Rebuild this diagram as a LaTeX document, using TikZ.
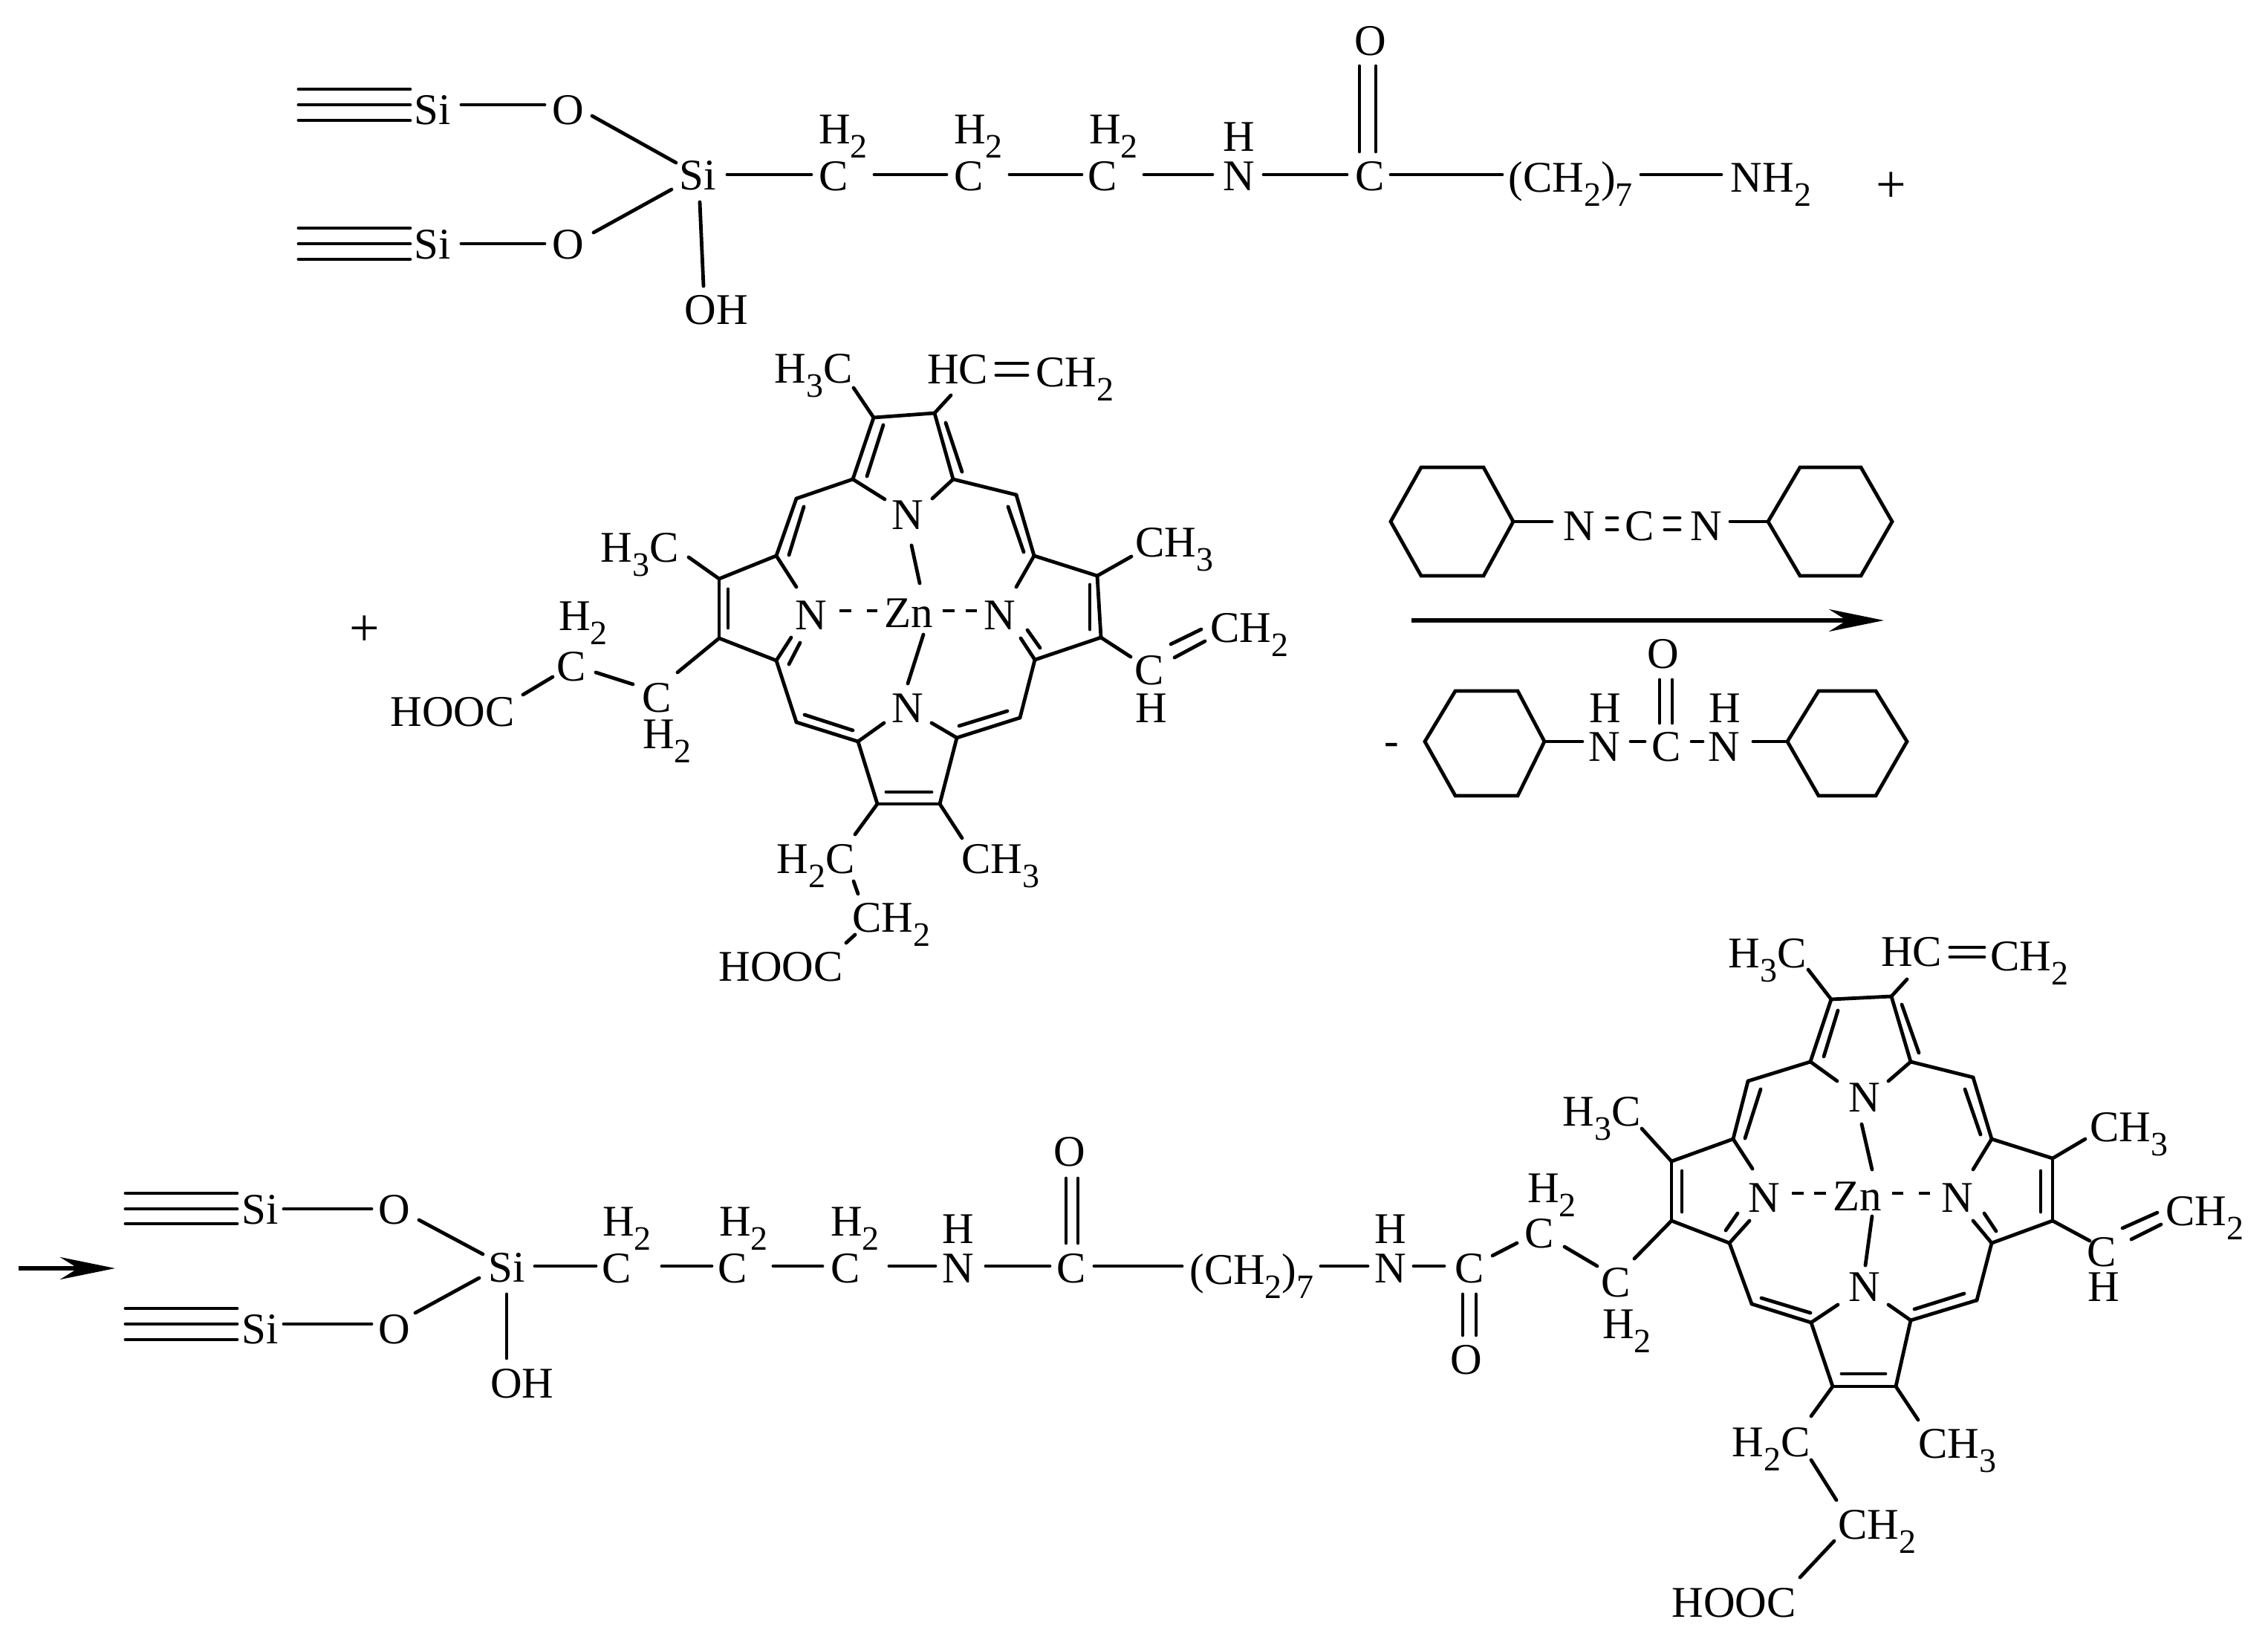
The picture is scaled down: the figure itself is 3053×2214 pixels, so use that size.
\documentclass[tikz,border=0pt]{standalone}
\usepackage{fontspec}
\setmainfont{Liberation Serif}
\usetikzlibrary{arrows.meta}
\newcommand\lo[1]{\smash{\raisebox{-9.5pt}{\fontsize{23}{23}\selectfont #1}}}
\newcommand\A[4]{\node[lbl] (#1) at (#2,#3) {#4};}
\newcommand\C[3]{\coordinate (#1) at (#2,#3);}
\newcommand\bd[6]{\draw[bond] ([shift={(#2,#3)}]#1.center) -- ([shift={(#5,#6)}]#4.center);}
\tikzset{
  lbl/.style={inner sep=0pt,font=\fontsize{29.5}{29.5}\selectfont,text=black},
  bond/.style={line width=2.4pt,line cap=round,black},
  plussign/.style={inner sep=0pt,font=\fontsize{36}{36}\selectfont},
  ringline/.style={line width=2.4pt,line join=miter,black},
  arrowline/.style={line width=3pt,black,-{Stealth[length=37pt,width=15pt,inset=12pt]}},
  zndash/.style={bond,line cap=butt}
}
\begin{document}
\begin{tikzpicture}[x=0.5pt,y=-0.5pt]
\fill[white,use as bounding box] (0,0) rectangle (3053,2214);
%% ---------- top row ----------
\A{sia}{582}{148}{Si}\A{sib}{582}{329}{Si}\A{oa}{765}{148}{O}\A{ob}{765}{329}{O}
\A{sic}{939}{236}{Si}\A{oh}{964}{417}{OH}
\A{ca}{1122}{237}{C}\A{ha}{1135}{174}{H\lo{2}}
\A{cb}{1304}{237}{C}\A{hb}{1317}{174}{H\lo{2}}
\A{cc}{1484}{237}{C}\A{hc}{1499}{174}{H\lo{2}}
\A{na}{1668}{237}{N}\A{nah}{1668}{184}{H}
\A{cd}{1844}{237}{C}\A{od}{1845}{55}{O}
\A{chs}{2114}{239}{\smash{(}CH\lo{2}\smash{)}\lo{7}}
\A{nhh}{2384}{239}{NH\lo{2}}
\node[plussign] (plusa) at (2546,252) {+};
\C{taa}{402}{120}\C{tab}{402}{141}\C{tac}{402}{162}
\C{tba}{402}{307}\C{tbb}{402}{328}\C{tbc}{402}{349}
\bd{taa}{0}{0}{sia}{-30}{-28}\bd{tab}{0}{0}{sia}{-30}{-7}\bd{tac}{0}{0}{sia}{-30}{14}
\bd{tba}{0}{0}{sib}{-30}{-22}\bd{tbb}{0}{0}{sib}{-30}{-1}\bd{tbc}{0}{0}{sib}{-30}{20}
\bd{sia}{39}{-7}{oa}{-32}{-7}
\bd{sib}{39}{-1}{ob}{-32}{-1}
\bd{oa}{32}{8}{sic}{-29}{-17}
\bd{ob}{34}{-16}{sic}{-35}{19}
\bd{sic}{3}{36}{oh}{-17}{-32}
\bd{sic}{40}{-1}{ca}{-30}{-2}
\bd{ca}{55}{-2}{cb}{-30}{-2}
\bd{cb}{55}{-2}{cc}{-28}{-2}
\bd{cc}{56}{-2}{na}{-36}{-2}
\bd{na}{33}{-2}{cd}{-31}{-2}
\bd{cd}{-14}{-33}{od}{-15}{34}
\bd{cd}{8}{-33}{od}{7}{34}
\bd{cd}{28}{-2}{chs}{-92}{-4}
\bd{chs}{95}{-4}{nhh}{-67}{-4}
%% ---------- first porphyrin ----------
\node[plussign] (plusb) at (491,849) {+};
\A{pnt}{1222}{693}{N}\A{pnl}{1092}{828}{N}\A{pnr}{1346}{828}{N}\A{pnb}{1222}{953}{N}\A{pzn}{1223}{825}{Zn}
\A{pht}{1095}{496}{H\lo{3}C}\A{phc}{1289}{497}{HC}\A{pcht}{1447}{501}{CH\lo{2}}
\A{phl}{861}{737}{H\lo{3}C}\A{pchr}{1581}{730}{CH\lo{3}}
\A{pcv}{1547}{902}{C}\A{phv}{1550}{953}{H}\A{pchv}{1682}{845}{CH\lo{2}}
\A{pcb}{884}{939}{C}\A{phcb}{898}{988}{H\lo{2}}
\A{pca}{769}{897}{C}\A{phca}{785}{829}{H\lo{2}}
\A{phoa}{609}{958}{HOOC}
\A{pchb}{1347}{1156}{CH\lo{3}}\A{phtc}{1098}{1156}{H\lo{2}C}\A{pcc}{1200}{1235}{CH\lo{2}}\A{phob}{1051}{1301}{HOOC}
\C{pa1}{1148}{645}\C{pa2}{1176}{562}\C{pa3}{1258}{556}\C{pa4}{1283}{645}
\C{pmtl}{1072}{671}\C{pmtr}{1368}{666}\C{pmbl}{1072}{972}\C{pmbr}{1373}{966}
\C{pb1}{1045}{748}\C{pb2}{968}{779}\C{pb3}{968}{859}\C{pb4}{1045}{889}
\C{pc1}{1155}{998}\C{pc2}{1181}{1082}\C{pc3}{1265}{1082}\C{pc4}{1288}{993}
\C{pd1}{1392}{748}\C{pd2}{1477}{775}\C{pd3}{1482}{858}\C{pd4}{1393}{888}
\foreach \a/\b in {pa1/pa2,pa2/pa3,pa3/pa4,pa1/pmtl,pmtl/pb1,pb1/pb2,pb2/pb3,pb3/pb4,pb4/pmbl,pmbl/pc1,pc1/pc2,pc2/pc3,pc3/pc4,pc4/pmbr,pmbr/pd4,pd4/pd3,pd3/pd2,pd2/pd1,pd1/pmtr,pmtr/pa4}
  {\draw[bond] (\a) -- (\b);}
\bd{pa2}{13}{10}{pa1}{19}{-4}
\bd{pa3}{15}{13}{pa4}{12}{-10}
\bd{pmtl}{10}{11}{pb1}{17}{-1}
\bd{pmtr}{-11}{16}{pd1}{-14}{-5}
\bd{pb2}{12}{14}{pb3}{12}{-14}
\bd{pd2}{-10}{12}{pd3}{-15}{-11}
\bd{pc2}{12}{-16}{pc3}{-11}{-16}
\bd{pmbl}{11}{-10}{pc1}{-7}{-15}
\bd{pc4}{3}{-16}{pmbr}{-17}{-9}
\bd{pa1}{0}{0}{pnt}{-31}{-21}
\bd{pa4}{0}{0}{pnt}{33}{-22}
\bd{pb1}{0}{0}{pnl}{-20}{-38}
\bd{pb4}{0}{0}{pnl}{-27}{30}
\bd{pb4}{17}{5}{pnl}{-15}{37}
\bd{pc1}{0}{0}{pnb}{-32}{20}
\bd{pc4}{0}{0}{pnb}{32}{20}
\bd{pd1}{0}{0}{pnr}{22}{-38}
\bd{pd4}{0}{0}{pnr}{28}{31}
\bd{pd4}{7}{-16}{pnr}{37}{20}
\bd{pnt}{5}{41}{pzn}{15}{-40}
\bd{pzn}{20}{29}{pnb}{0}{-33}
\draw[zndash,dash pattern=on 7.75pt off 10.5pt] ([shift={(38,-6)}]pnl.center) -- ([shift={(-42,-3)}]pzn.center);
\draw[zndash,dash pattern=on 8pt off 7.5pt] ([shift={(46,-3)}]pzn.center) -- ([shift={(-31,-6)}]pnr.center);
\bd{pa2}{0}{0}{pht}{54}{26}
\bd{pa3}{0}{0}{phc}{-9}{35}
\bd{phc}{52}{-8}{pcht}{-64}{-12}
\bd{phc}{52}{8}{pcht}{-64}{4}
\bd{pb2}{0}{0}{phl}{66}{13}
\bd{pd2}{0}{0}{pchr}{-58}{19}
\bd{pb3}{0}{0}{pcb}{28}{-34}
\bd{pcb}{-32}{-18}{pca}{33}{8}
\bd{pca}{-25}{14}{phoa}{95}{-23}
\bd{pd3}{0}{0}{pcv}{-25}{-18}
\bd{pcv}{29}{-35}{pchv}{-65}{2}
\bd{pcv}{34}{-17}{pchv}{-60}{18}
\bd{pc3}{0}{0}{pchb}{-52}{-28}
\bd{pc2}{0}{0}{phtc}{53}{-33}
\bd{phtc}{51}{30}{pcc}{-45}{-32}
\bd{pcc}{-49}{23}{phob}{88}{-32}
%% ---------- reagents ----------
\draw[ringline] (1872,702) -- (1913,629) -- (1997,629) -- (2037,702) coordinate (hxar) -- (1997,775) -- (1913,775) -- cycle;
\draw[ringline] (2380,702) coordinate (hxbl) -- (2423,629) -- (2505,629) -- (2547,702) -- (2505,775) -- (2423,775) -- cycle;
\A{dna}{2126}{708}{N}\A{dc}{2207}{708}{C}\A{dnb}{2297}{708}{N}
\bd{hxar}{0}{0}{dna}{-37}{-6}
\bd{dnb}{32}{-6}{hxbl}{0}{0}
\bd{dna}{37}{-11}{dc}{-30}{-11}
\bd{dna}{37}{5}{dc}{-30}{5}
\bd{dc}{34}{-11}{dnb}{-36}{-11}
\bd{dc}{34}{5}{dnb}{-36}{5}
\C{arra}{1900}{835}\C{arrb}{2536}{835}
\draw[arrowline] (arra) -- (arrb);
\A{uo}{2239}{880}{O}\A{uc}{2243}{1005}{C}
\A{una}{2160}{1005}{N}\A{uha}{2161}{953}{H}
\A{unb}{2321}{1005}{N}\A{uhb}{2322}{953}{H}
\A{mns}{1873}{1008}{-}
\draw[ringline] (1918,998) -- (1959,930) -- (2043,930) -- (2079,998) coordinate (hxcr) -- (2043,1071) -- (1959,1071) -- cycle;
\draw[ringline] (2406,998) coordinate (hxdl) -- (2448,930) -- (2525,930) -- (2567,998) -- (2525,1071) -- (2448,1071) -- cycle;
\bd{hxcr}{0}{0}{una}{-30}{-7}
\bd{una}{35}{-7}{uc}{-29}{-7}
\bd{uc}{34}{-7}{unb}{-29}{-7}
\bd{unb}{39}{-7}{hxdl}{0}{0}
\bd{uc}{-9}{-32}{uo}{-5}{35}
\bd{uc}{8}{-32}{uo}{12}{35}
%% ---------- bottom chain ----------
\C{arrc}{25}{1707}\C{arrd}{155}{1707}
\draw[arrowline] (arrc) -- (arrd);
\A{sid}{350}{1628}{Si}\A{sie}{350}{1789}{Si}\A{odd}{531}{1628}{O}\A{oee}{531}{1789}{O}
\A{sif}{682}{1706}{Si}\A{ohb}{703}{1862}{OH}
\A{ea}{830}{1707}{C}\A{eah}{844}{1644}{H\lo{2}}
\A{eb}{986}{1707}{C}\A{ebh}{1001}{1644}{H\lo{2}}
\A{ec}{1138}{1707}{C}\A{ech}{1151}{1644}{H\lo{2}}
\A{en}{1290}{1707}{N}\A{enh}{1290}{1654}{H}
\A{ek}{1442}{1707}{C}\A{eo}{1440}{1550}{O}
\A{ech7}{1685}{1709}{\smash{(}CH\lo{2}\smash{)}\lo{7}}
\A{fn}{1872}{1707}{N}\A{fnh}{1872}{1654}{H}
\A{fk}{1978}{1707}{C}\A{fo}{1974}{1830}{O}
\C{tca}{169}{1606}\C{tcb}{169}{1627}\C{tcc}{169}{1647}
\C{tda}{169}{1761}\C{tdb}{169}{1782}\C{tdc}{169}{1803}
\bd{tca}{0}{0}{sid}{-31}{-22}\bd{tcb}{0}{0}{sid}{-31}{-1}\bd{tcc}{0}{0}{sid}{-31}{19}
\bd{tda}{0}{0}{sie}{-31}{-28}\bd{tdb}{0}{0}{sie}{-31}{-7}\bd{tdc}{0}{0}{sie}{-31}{14}
\bd{sid}{32}{-1}{odd}{-31}{-1}
\bd{sie}{32}{-7}{oee}{-31}{-7}
\bd{odd}{33}{14}{sif}{-32}{-18}
\bd{oee}{28}{-22}{sif}{-37}{14}
\bd{sif}{0}{36}{ohb}{-21}{-34}
\bd{sif}{38}{-2}{ea}{-28}{-3}
\bd{ea}{61}{-3}{eb}{-28}{-3}
\bd{eb}{55}{-3}{ec}{-31}{-3}
\bd{ec}{59}{-3}{en}{-31}{-3}
\bd{en}{37}{-3}{ek}{-29}{-3}
\bd{ek}{31}{-3}{ech7}{-94}{-5}
\bd{ech7}{93}{-5}{fn}{-31}{-3}
\bd{fn}{31}{-3}{fk}{-34}{-3}
\bd{ek}{-7}{-34}{eo}{-5}{36}
\bd{ek}{9}{-34}{eo}{11}{36}
\bd{fk}{-9}{35}{fo}{-5}{-33}
\bd{fk}{9}{35}{fo}{13}{-33}
%% ---------- second porphyrin ----------
\A{qnt}{2510}{1477}{N}\A{qnl}{2375}{1612}{N}\A{qnr}{2635}{1612}{N}\A{qnb}{2510}{1732}{N}\A{qzn}{2500}{1610}{Zn}
\A{qht}{2379}{1283}{H\lo{3}C}\A{qhc}{2573}{1281}{HC}\A{qcht}{2732}{1287}{CH\lo{2}}
\A{qhl}{2156}{1496}{H\lo{3}C}\A{qchr}{2866}{1517}{CH\lo{3}}
\A{qcv}{2829}{1685}{C}\A{qhv}{2832}{1732}{H}\A{qchv}{2968}{1630}{CH\lo{2}}
\A{qcb}{2175}{1726}{C}\A{qhcb}{2190}{1782}{H\lo{2}}
\A{qca}{2072}{1660}{C}\A{qhca}{2089}{1599}{H\lo{2}}
\A{qchb}{2635}{1943}{CH\lo{3}}\A{qhtc}{2384}{1941}{H\lo{2}C}\A{qcc}{2527}{2052}{CH\lo{2}}\A{qhob}{2334}{2157}{HOOC}
\C{qa1}{2437}{1429}\C{qa2}{2465}{1345}\C{qa3}{2546}{1341}\C{qa4}{2572}{1429}
\C{qmtl}{2353}{1455}\C{qmtr}{2656}{1450}\C{qmbl}{2358}{1755}\C{qmbr}{2661}{1750}
\C{qb1}{2333}{1533}\C{qb2}{2250}{1563}\C{qb3}{2250}{1643}\C{qb4}{2328}{1673}
\C{qc1}{2438}{1780}\C{qc2}{2467}{1866}\C{qc3}{2552}{1866}\C{qc4}{2572}{1777}
\C{qd1}{2681}{1533}\C{qd2}{2763}{1559}\C{qd3}{2763}{1643}\C{qd4}{2681}{1673}
\foreach \a/\b in {qa1/qa2,qa2/qa3,qa3/qa4,qa1/qmtl,qmtl/qb1,qb1/qb2,qb2/qb3,qb3/qb4,qb4/qmbl,qmbl/qc1,qc1/qc2,qc2/qc3,qc3/qc4,qc4/qmbr,qmbr/qd4,qd4/qd3,qd3/qd2,qd2/qd1,qd1/qmtr,qmtr/qa4}
  {\draw[bond] (\a) -- (\b);}
\bd{qa2}{9}{15}{qa1}{18}{-7}
\bd{qa3}{14}{11}{qa4}{11}{-12}
\bd{qmtl}{17}{11}{qb1}{16}{-1}
\bd{qmtr}{-11}{16}{qd1}{-15}{-6}
\bd{qb2}{14}{13}{qb3}{14}{-12}
\bd{qd2}{-16}{17}{qd3}{-16}{-12}
\bd{qc2}{12}{-17}{qc3}{-14}{-17}
\bd{qmbl}{13}{-8}{qc1}{-1}{-13}
\bd{qc4}{5}{-15}{qmbr}{-17}{-9}
\bd{qa1}{0}{0}{qnt}{-37}{-22}
\bd{qa4}{0}{0}{qnt}{32}{-22}
\bd{qb1}{0}{0}{qnl}{-16}{-39}
\bd{qb4}{0}{0}{qnl}{-20}{31}
\bd{qb4}{-5}{-17}{qnl}{-36}{21}
\bd{qc1}{0}{0}{qnb}{-36}{24}
\bd{qc4}{0}{0}{qnb}{32}{24}
\bd{qd1}{0}{0}{qnr}{21}{-38}
\bd{qd4}{0}{0}{qnr}{21}{31}
\bd{qd4}{6}{-16}{qnr}{36}{21}
\bd{qnt}{-4}{36}{qzn}{20}{-36}
\bd{qzn}{20}{27}{qnb}{1}{-29}
\draw[zndash,dash pattern=on 8pt off 7pt] ([shift={(37,-6)}]qnl.center) -- ([shift={(-42,-4)}]qzn.center);
\draw[zndash,dash pattern=on 7.5pt off 10.5pt] ([shift={(47,-4)}]qzn.center) -- ([shift={(-37,-6)}]qnr.center);
\bd{qa2}{0}{0}{qht}{55}{22}
\bd{qa3}{0}{0}{qhc}{-6}{37}
\bd{qhc}{52}{-6}{qcht}{-61}{-12}
\bd{qhc}{52}{7}{qcht}{-61}{1}
\bd{qb2}{0}{0}{qhl}{54}{23}
\bd{qd2}{0}{0}{qchr}{-59}{16}
\bd{qb3}{0}{0}{qcb}{25}{-32}
\bd{qcb}{-25}{-22}{qca}{34}{18}
\bd{qca}{-30}{13}{fk}{31}{-17}
\bd{qd3}{0}{0}{qcv}{-16}{-15}
\bd{qcv}{28}{-32}{qchv}{-64}{2}
\bd{qcv}{40}{-17}{qchv}{-59}{18}
\bd{qc3}{0}{0}{qchb}{-53}{-32}
\bd{qc2}{0}{0}{qhtc}{54}{-35}
\bd{qhtc}{54}{24}{qcc}{-55}{-33}
\bd{qcc}{-58}{22}{qhob}{89}{-34}
\end{tikzpicture}
\end{document}
